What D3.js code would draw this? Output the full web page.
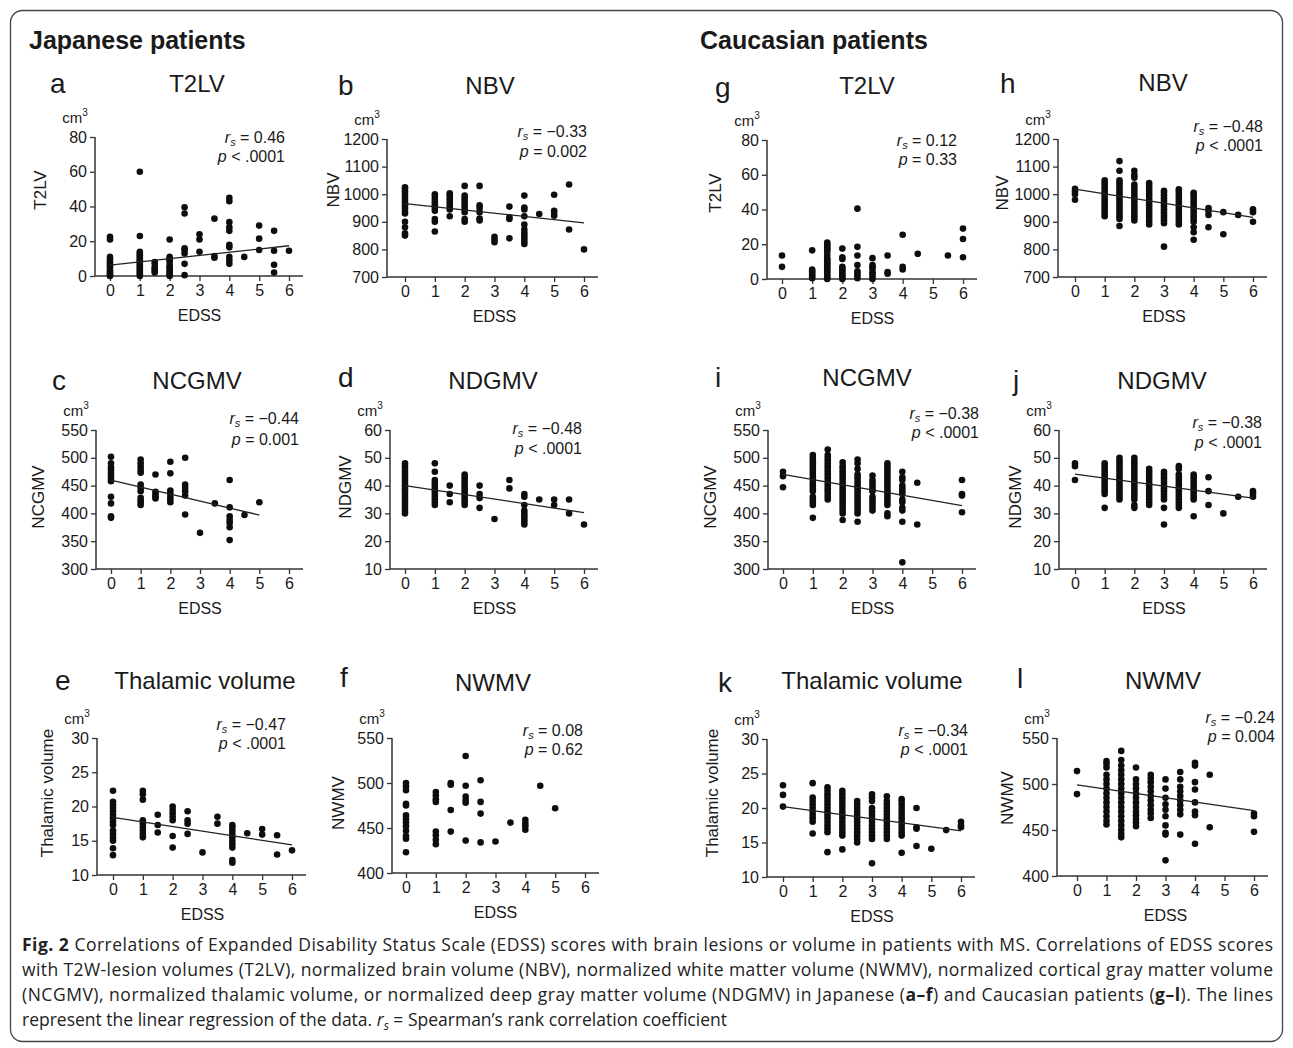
<!DOCTYPE html>
<html>
<head>
<meta charset="utf-8">
<script src="https://cdn.jsdelivr.net/npm/d3@7"></script>
<style>
  body { margin: 0; background: #fff; }
  svg { display: block; font-family: "Liberation Sans", Arial, sans-serif; }
</style>
</head>
<body>
<svg id="fig" width="1293" height="1048"></svg>
<script>
// ---- data: [EDSS, [values...]] ----
const edssTicks = [0, 1, 2, 3, 4, 5, 6];

const t2lvTicks = [0, 20, 40, 60, 80];
const nbvTicks = [700, 800, 900, 1000, 1100, 1200];
const ncgmvTicks = [300, 350, 400, 450, 500, 550];
const ndgmvTicks = [10, 20, 30, 40, 50, 60];
const thalTicks = [10, 15, 20, 25, 30];
const nwmvTicks = [400, 450, 500, 550];

// Japanese patients
const jpT2lv = [
  [0, [0, 0.5, 1.5, 2.5, 3.5, 5, 6, 7, 8, 9.5, 11, 21, 22.5]],
  [1, [0, 1, 2, 3, 4, 5, 6, 7, 8, 9, 10, 11, 12, 13, 14, 23, 60]],
  [1.5, [2, 3, 4, 5, 7, 8]],
  [2, [0, 1, 2, 3, 4, 5, 6, 8, 9, 10, 11, 21]],
  [2.5, [0.5, 7, 13, 15, 16, 36, 39.5]],
  [3, [14, 21, 24]],
  [3.5, [10.5, 11.5, 33]],
  [4, [7, 9, 11, 16.5, 18, 26, 28, 31, 43, 45]],
  [4.5, [11]],
  [5, [15, 21.5, 29]],
  [5.5, [2, 6.5, 14.5, 26]],
  [6, [14.5]]
];
const jpNbv = [
  [0, [850, 858, 880, 900, 930, 940, 950, 960, 970, 980, 990, 1000, 1010, 1020, 1025]],
  [1, [865, 900, 910, 940, 950, 960, 970, 980, 990, 1000]],
  [1.5, [920, 945, 955, 965, 975, 985, 995, 1003]],
  [2, [900, 910, 935, 945, 955, 965, 975, 985, 995, 1030]],
  [2.5, [905, 912, 935, 950, 960, 1030]],
  [3, [826, 835, 846]],
  [3.5, [840, 910, 916, 955]],
  [4, [820, 830, 840, 850, 860, 872, 890, 920, 945, 952, 995]],
  [4.5, [928]],
  [5, [922, 932, 940, 998]],
  [5.5, [872, 1035]],
  [6, [800]]
];
const jpNcgmv = [
  [0, [392, 395, 418, 430, 458, 463, 468, 473, 478, 483, 490, 502]],
  [1, [415, 419, 423, 428, 440, 446, 452, 473, 478, 484, 490, 497]],
  [1.5, [427, 431, 435, 439, 470]],
  [2, [420, 425, 430, 436, 441, 472, 493]],
  [2.5, [398, 432, 440, 446, 452, 500]],
  [3, [365]],
  [3.5, [418]],
  [4, [352, 375, 383, 388, 395, 411, 460]],
  [4.5, [397]],
  [5, [420]]
];
const jpNdgmv = [
  [0, [30, 31, 32, 33, 34, 35, 36, 37, 38, 39, 40, 41, 42, 43, 44, 45, 46, 47, 48]],
  [1, [33, 34, 35, 36, 37, 38, 39, 40, 41, 42, 45, 48]],
  [1.5, [34, 37, 40]],
  [2, [33, 34, 35, 36, 37, 38, 39, 40, 41, 42, 43, 44]],
  [2.5, [32, 35.5, 37, 40]],
  [3, [28]],
  [3.5, [39, 42]],
  [4, [26, 27, 28, 29, 30, 31, 33, 36, 37]],
  [4.5, [35]],
  [5, [33, 35]],
  [5.5, [30, 35]],
  [6, [26]]
];
const jpThal = [
  [0, [12.9, 13.9, 15, 15.5, 16, 16.5, 17.3, 17.8, 18.3, 18.8, 19.3, 19.8, 20.3, 20.7, 22.3]],
  [1, [15.5, 16, 16.5, 17, 17.5, 18, 21, 21.8, 22.3]],
  [1.5, [16.2, 17.3, 18.8]],
  [2, [14, 15.7, 18, 18.5, 19, 19.5, 20]],
  [2.5, [16, 17.5, 18, 19.3]],
  [3, [13.3]],
  [3.5, [17.5, 18.5]],
  [4, [11.8, 12.2, 14, 14.5, 15, 15.5, 16, 16.5, 17, 17.3]],
  [4.5, [16.1]],
  [5, [15.9, 16.7]],
  [5.5, [13, 15.8]],
  [6, [13.6]]
];
const jpNwmv = [
  [0, [423, 438, 441, 447, 452, 456, 460, 464, 475, 477, 492, 496, 500]],
  [1, [432, 437, 442, 446, 479, 482, 486, 490]],
  [1.5, [446, 470, 498, 500]],
  [2, [436, 478, 481, 485, 497, 530]],
  [2.5, [434, 466, 479, 503]],
  [3, [435]],
  [3.5, [456]],
  [4, [448, 452, 455, 459]],
  [4.5, [497]],
  [5, [472]]
];

// Caucasian patients
const caT2lv = [
  [0, [7, 13.5]],
  [1, [0.5, 1.5, 2.5, 3.5, 4.5, 5.5, 16.5]],
  [1.5, [0, 1, 2, 3, 4, 5, 6, 7, 8, 9, 10, 11, 12, 14, 16, 17, 18, 19, 20, 21]],
  [2, [0, 1, 2, 3, 4, 5, 6, 7, 11.5, 12.5, 17.5]],
  [2.5, [0.5, 2, 3.5, 4.5, 8, 13.5, 18.5, 40.5]],
  [3, [0, 1.5, 3, 4, 6, 7, 8, 12]],
  [3.5, [3, 4, 13.5]],
  [4, [5.5, 7, 25.5]],
  [4.5, [14.5]],
  [5.5, [13.5]],
  [6, [12.5, 23, 29]]
];
const caNbv = [
  [0, [980, 1000, 1010, 1020]],
  [1, [920, 930, 940, 950, 960, 970, 980, 990, 1000, 1010, 1020, 1030, 1040, 1050]],
  [1.5, [885, 910, 920, 930, 940, 950, 960, 970, 980, 990, 1000, 1010, 1020, 1030, 1040, 1050, 1085, 1120]],
  [2, [905, 915, 925, 935, 945, 955, 965, 975, 985, 995, 1005, 1015, 1025, 1035, 1060, 1070, 1085]],
  [2.5, [890, 900, 910, 920, 930, 940, 950, 960, 970, 980, 990, 1000, 1010, 1020, 1030, 1040]],
  [3, [810, 895, 905, 915, 925, 935, 945, 955, 965, 975, 985, 995, 1005, 1012]],
  [3.5, [890, 900, 910, 920, 930, 940, 950, 960, 970, 980, 990, 1000, 1010, 1018]],
  [4, [835, 862, 880, 900, 910, 920, 930, 940, 950, 960, 970, 980, 990, 1000, 1005]],
  [4.5, [880, 925, 940, 950]],
  [5, [855, 935]],
  [5.5, [925]],
  [6, [900, 935, 945]]
];
const caNcgmv = [
  [0, [447, 467, 475]],
  [1, [392, 415, 420, 425, 430, 440, 445, 450, 455, 460, 465, 470, 475, 480, 485, 490, 495, 500, 505]],
  [1.5, [425, 430, 435, 440, 445, 450, 455, 460, 465, 470, 475, 480, 485, 490, 495, 500, 505, 515]],
  [2, [388, 400, 405, 410, 415, 420, 425, 430, 435, 440, 445, 450, 455, 460, 465, 470, 475, 480, 485, 492]],
  [2.5, [385, 400, 405, 410, 415, 420, 425, 430, 435, 440, 445, 450, 455, 460, 465, 470, 480, 490, 497]],
  [3, [405, 410, 415, 420, 425, 430, 440, 445, 450, 455, 460, 468]],
  [3.5, [395, 400, 415, 420, 425, 430, 435, 440, 445, 450, 455, 460, 465, 470, 475, 480, 485, 490]],
  [4, [312, 385, 405, 410, 420, 425, 435, 440, 445, 450, 460, 465, 475]],
  [4.5, [380, 455]],
  [6, [402, 432, 435, 460]]
];
const caNdgmv = [
  [0, [42, 47, 48]],
  [1, [32, 37, 38, 39, 40, 41, 42, 43, 44, 45, 46, 47, 48]],
  [1.5, [35, 36, 37, 38, 39, 40, 41, 42, 43, 44, 45, 46, 47, 48, 49, 50]],
  [2, [32, 33, 35, 36, 37, 38, 39, 40, 41, 42, 43, 44, 45, 46, 47, 48, 49, 50]],
  [2.5, [33, 34, 35, 36, 37, 38, 39, 40, 41, 42, 43, 44, 45, 46]],
  [3, [26, 32, 35, 36, 37, 38, 39, 40, 41, 42, 43, 44, 45]],
  [3.5, [32, 33, 34, 35, 36, 37, 38, 39, 40, 41, 42, 43, 44, 46, 47]],
  [4, [29, 35, 36, 37, 38, 39, 40, 41, 42, 43, 44]],
  [4.5, [33, 38, 43]],
  [5, [30]],
  [5.5, [36]],
  [6, [36, 37, 38]]
];
const caThal = [
  [0, [20.2, 21.9, 23.3]],
  [1, [16.3, 18, 18.5, 19, 19.5, 20, 20.5, 21, 21.5, 23.6]],
  [1.5, [13.6, 16.5, 17, 17.5, 18, 18.5, 19, 19.5, 20, 20.5, 21, 21.5, 22, 22.5, 23]],
  [2, [14, 16, 16.5, 17, 17.5, 18, 18.5, 19, 19.5, 20, 20.5, 21, 21.5, 22, 22.5]],
  [2.5, [15, 15.5, 16, 16.5, 17, 17.5, 18, 18.5, 19, 19.5, 20, 20.5, 21]],
  [3, [12, 15.5, 16, 16.5, 17, 17.5, 18, 18.5, 19, 19.5, 20, 21, 21.5, 22]],
  [3.5, [15.5, 16, 16.5, 17, 17.5, 18, 18.5, 19, 19.5, 20, 20.5, 21, 21.7]],
  [4, [13.5, 16, 16.5, 17, 17.5, 18, 18.5, 19, 19.5, 20, 20.5, 21, 21.3]],
  [4.5, [14.5, 17, 17.2, 20]],
  [5, [14.1]],
  [5.5, [16.8]],
  [6, [17.2, 17.5, 18]]
];
const caNwmv = [
  [0, [489, 514]],
  [1, [456, 460, 465, 470, 475, 480, 485, 490, 495, 500, 505, 510, 518, 522, 525]],
  [1.5, [442, 446, 450, 455, 460, 465, 470, 475, 480, 485, 490, 495, 500, 505, 510, 515, 520, 526, 536]],
  [2, [454, 458, 462, 466, 470, 475, 480, 485, 490, 495, 500, 505, 518]],
  [2.5, [463, 468, 472, 477, 482, 487, 492, 497, 502, 506, 510]],
  [3, [417, 445, 447, 455, 465, 472, 478, 485, 495, 505]],
  [3.5, [445, 467, 472, 477, 482, 487, 492, 497, 505, 513]],
  [4, [435, 466, 470, 480, 494, 502, 520, 523]],
  [4.5, [453, 510]],
  [6, [448, 465, 468]]
];

// regression lines (end points)
const fitA = [[0, 6.3], [6, 17.4]];
const fitB = [[0, 966], [6, 896]];
const fitC = [[0, 460], [5, 397]];
const fitD = [[0, 40], [6, 30.3]];
const fitE = [[0, 18.4], [6, 14.4]];
const fitH = [[0, 1018], [6, 916]];
const fitI = [[0, 470], [6, 414]];
const fitJ = [[0, 44.1], [6, 35.5]];
const fitK = [[0, 20.2], [6, 16.7]];
const fitL = [[0, 499], [6, 471]];

// Spearman statistics
const rsText = { a: '0.46', b: '\u22120.33', c: '\u22120.44', d: '\u22120.48', e: '\u22120.47', f: '0.08',
                 g: '0.12', h: '\u22120.48', i: '\u22120.38', j: '\u22120.38', k: '\u22120.34', l: '\u22120.24' };
const pText = { a: '< .0001', b: '= 0.002', c: '= 0.001', d: '< .0001', e: '< .0001', f: '= 0.62',
                g: '= 0.33', h: '< .0001', i: '< .0001', j: '< .0001', k: '< .0001', l: '= 0.004' };

// ---- panel layout ----
const panels = [
  { id: 'a', title: 'T2LV', ylab: 'T2LV', data: jpT2lv, fit: fitA, dom: [0, 80], ticks: t2lvTicks,
    ax: 95, x0: 110, x6: 289, top: 137, bot: 276, lx: 50, ly: 83, tx: 197, ty: 83, ylx: 40, yly: 190, annX: 285, rY: 138, pY: 157 },
  { id: 'b', title: 'NBV', ylab: 'NBV', data: jpNbv, fit: fitB, dom: [700, 1200], ticks: nbvTicks,
    ax: 387, x0: 405, x6: 584, top: 139, bot: 277, lx: 338, ly: 85, tx: 490, ty: 85, ylx: 333, yly: 190, annX: 587, rY: 132, pY: 152 },
  { id: 'g', title: 'T2LV', ylab: 'T2LV', data: caT2lv, fit: null, dom: [0, 80], ticks: t2lvTicks,
    ax: 767, x0: 782, x6: 963, top: 140, bot: 279, lx: 715, ly: 87, tx: 867, ty: 85, ylx: 715, yly: 193, annX: 957, rY: 141, pY: 160 },
  { id: 'h', title: 'NBV', ylab: 'NBV', data: caNbv, fit: fitH, dom: [700, 1200], ticks: nbvTicks,
    ax: 1058, x0: 1075, x6: 1253, top: 139, bot: 277, lx: 1000, ly: 83, tx: 1163, ty: 82, ylx: 1002, yly: 193, annX: 1263, rY: 127, pY: 146 },
  { id: 'c', title: 'NCGMV', ylab: 'NCGMV', data: jpNcgmv, fit: fitC, dom: [300, 550], ticks: ncgmvTicks,
    ax: 96, x0: 111, x6: 289, top: 430, bot: 569, lx: 52, ly: 380, tx: 197, ty: 380, ylx: 38, yly: 497, annX: 299, rY: 419, pY: 440 },
  { id: 'd', title: 'NDGMV', ylab: 'NDGMV', data: jpNdgmv, fit: fitD, dom: [10, 60], ticks: ndgmvTicks,
    ax: 390, x0: 405, x6: 584, top: 430, bot: 569, lx: 338, ly: 377, tx: 493, ty: 380, ylx: 345, yly: 487, annX: 582, rY: 429, pY: 449 },
  { id: 'i', title: 'NCGMV', ylab: 'NCGMV', data: caNcgmv, fit: fitI, dom: [300, 550], ticks: ncgmvTicks,
    ax: 768, x0: 783, x6: 962, top: 430, bot: 569, lx: 715, ly: 377, tx: 867, ty: 377, ylx: 710, yly: 497, annX: 979, rY: 414, pY: 433 },
  { id: 'j', title: 'NDGMV', ylab: 'NDGMV', data: caNdgmv, fit: fitJ, dom: [10, 60], ticks: ndgmvTicks,
    ax: 1059, x0: 1075, x6: 1253, top: 430, bot: 569, lx: 1013, ly: 380, tx: 1162, ty: 380, ylx: 1015, yly: 497, annX: 1262, rY: 423, pY: 443 },
  { id: 'e', title: 'Thalamic volume', ylab: 'Thalamic volume', data: jpThal, fit: fitE, dom: [10, 30], ticks: thalTicks,
    ax: 97, x0: 113, x6: 292, top: 738, bot: 875, lx: 55, ly: 680, tx: 205, ty: 680, ylx: 47, yly: 793, annX: 286, rY: 725, pY: 744 },
  { id: 'f', title: 'NWMV', ylab: 'NWMV', data: jpNwmv, fit: null, dom: [400, 550], ticks: nwmvTicks,
    ax: 392, x0: 406, x6: 585, top: 738, bot: 873, lx: 340, ly: 677, tx: 493, ty: 682, ylx: 338, yly: 803, annX: 583, rY: 731, pY: 750 },
  { id: 'k', title: 'Thalamic volume', ylab: 'Thalamic volume', data: caThal, fit: fitK, dom: [10, 30], ticks: thalTicks,
    ax: 767, x0: 783, x6: 961, top: 739, bot: 877, lx: 718, ly: 682, tx: 872, ty: 680, ylx: 712, yly: 793, annX: 968, rY: 731, pY: 750 },
  { id: 'l', title: 'NWMV', ylab: 'NWMV', data: caNwmv, fit: fitL, dom: [400, 550], ticks: nwmvTicks,
    ax: 1057, x0: 1077, x6: 1254, top: 738, bot: 876, lx: 1017, ly: 678, tx: 1163, ty: 680, ylx: 1007, yly: 798, annX: 1275, rY: 718, pY: 737 }
];

const svg = d3.select('#fig');
const ink = '#1a1a1a';
const intFmt = d3.format('d');

// outer frame
svg.append('rect')
  .attr('x', 10.5).attr('y', 10.5).attr('width', 1272).attr('height', 1031)
  .attr('rx', 12).attr('fill', 'none').attr('stroke', '#444').attr('stroke-width', 1.3);

// group headings
svg.append('text').attr('x', 29).attr('y', 40).attr('dominant-baseline', 'central')
  .style('font-size', '25px').style('font-weight', 'bold').attr('fill', ink).text('Japanese patients');
svg.append('text').attr('x', 700).attr('y', 40).attr('dominant-baseline', 'central')
  .style('font-size', '25px').style('font-weight', 'bold').attr('fill', ink).text('Caucasian patients');

panels.forEach(p => {
  const g = svg.append('g');
  const x = d3.scaleLinear().domain([0, 6]).range([p.x0, p.x6]);
  const y = d3.scaleLinear().domain(p.dom).range([p.bot, p.top]);

  // panel letter and title
  g.append('text').attr('x', p.lx).attr('y', p.ly).attr('dominant-baseline', 'central')
    .style('font-size', '28px').attr('fill', ink).text(p.id);
  g.append('text').attr('x', p.tx).attr('y', p.ty).attr('dominant-baseline', 'central')
    .attr('text-anchor', 'middle').style('font-size', '24px').attr('fill', ink).text(p.title);

  // unit
  const cm = g.append('text').attr('x', p.ax - 20).attr('y', p.top - 20).attr('dominant-baseline', 'central')
    .attr('text-anchor', 'middle').style('font-size', '15px').attr('fill', ink);
  cm.append('tspan').text('cm');
  cm.append('tspan').attr('dy', -5).style('font-size', '10px').text('3');

  // y axis
  const yAxis = g.append('g').attr('transform', `translate(${p.ax},0)`)
    .call(d3.axisLeft(y).tickValues(p.ticks).tickFormat(intFmt).tickSize(5).tickPadding(3).tickSizeOuter(0));
  yAxis.select('.domain').remove();
  yAxis.append('line').attr('x1', 0).attr('x2', 0).attr('y1', p.top).attr('y2', p.bot)
    .attr('stroke', '#333').attr('stroke-width', 1.5);

  // x axis
  const xAxis = g.append('g').attr('transform', `translate(0,${p.bot})`)
    .call(d3.axisBottom(x).tickValues(edssTicks).tickFormat(intFmt).tickSize(5).tickPadding(4).tickSizeOuter(0));
  xAxis.select('.domain').remove();
  xAxis.append('line').attr('x1', p.ax).attr('x2', p.x6 + 14).attr('y1', 0).attr('y2', 0)
    .attr('stroke', '#333').attr('stroke-width', 1.5);

  [yAxis, xAxis].forEach(a => {
    a.selectAll('.tick line').attr('stroke', '#333').attr('stroke-width', 1.3);
    a.selectAll('.tick text').style('font-size', '16px')
      .style('font-family', '"Liberation Sans", Arial, sans-serif').attr('fill', ink);
  });

  // axis titles
  g.append('text').attr('x', (p.x0 + p.x6) / 2).attr('y', p.bot + 39).attr('dominant-baseline', 'central')
    .attr('text-anchor', 'middle').style('font-size', '16px').attr('fill', ink).text('EDSS');
  g.append('text').attr('transform', `translate(${p.ylx},${p.yly}) rotate(-90)`)
    .attr('dominant-baseline', 'central').attr('text-anchor', 'middle')
    .style('font-size', '17px').attr('fill', ink).text(p.ylab);

  // points
  const pts = p.data.flatMap(([e, vals]) => vals.map(v => ({ e, v })));
  g.append('g').selectAll('circle').data(pts).join('circle')
    .attr('cx', d => x(d.e)).attr('cy', d => y(d.v)).attr('r', 3.3).attr('fill', '#0d0d0d');

  // regression line
  if (p.fit) {
    g.append('path').datum(p.fit)
      .attr('d', d3.line().x(d => x(d[0])).y(d => y(d[1])))
      .attr('fill', 'none').attr('stroke', '#222').attr('stroke-width', 1.3);
  }

  // statistics
  const r = g.append('text').attr('x', p.annX).attr('y', p.rY + 5).attr('text-anchor', 'end')
    .style('font-size', '16px').attr('fill', ink);
  r.append('tspan').style('font-style', 'italic').text('r');
  r.append('tspan').style('font-style', 'italic').style('font-size', '11px').attr('dy', 3).text('s');
  r.append('tspan').attr('dy', -3).text(' = ' + rsText[p.id]);
  const pv = g.append('text').attr('x', p.annX).attr('y', p.pY + 5).attr('text-anchor', 'end')
    .style('font-size', '16px').attr('fill', ink);
  pv.append('tspan').style('font-style', 'italic').text('p');
  pv.append('tspan').text(' ' + pText[p.id]);
});

// ---- caption ----
const capFont = '"Open Sans", "Noto Sans", sans-serif';
const capLines = [
  [['b', 'Fig. 2'], ['n', ' Correlations of Expanded Disability Status Scale (EDSS) scores with brain lesions or volume in patients with MS. Correlations of EDSS scores']],
  [['n', 'with T2W-lesion volumes (T2LV), normalized brain volume (NBV), normalized white matter volume (NWMV), normalized cortical gray matter volume']],
  [['n', '(NCGMV), normalized thalamic volume, or normalized deep gray matter volume (NDGMV) in Japanese ('], ['b', 'a\u2013f'],
   ['n', ') and Caucasian patients ('], ['b', 'g\u2013l'], ['n', '). The lines']],
  [['n', 'represent the linear regression of the data. '], ['i', 'r'], ['is', 's'], ['n', ' = Spearman\u2019s rank correlation coefficient']]
];
const capY = [951, 976, 1001, 1026];
capLines.forEach((parts, li) => {
  const t = svg.append('text').attr('x', 22).attr('y', capY[li])
    .style('font-family', capFont).style('font-size', '17.5px').attr('fill', '#222');
  if (li < 3) t.attr('textLength', 1251).attr('lengthAdjust', 'spacing');
  parts.forEach(([k, s]) => {
    const ts = t.append('tspan').text(s);
    if (k === 'b') ts.style('font-weight', 'bold');
    if (k === 'i') ts.style('font-style', 'italic');
    if (k === 'is') ts.style('font-style', 'italic').style('font-size', '12px').attr('dy', 4);
    if (k === 'n' && s.startsWith(' = ')) ts.attr('dy', -4);
  });
});
</script>
</body>
</html>
